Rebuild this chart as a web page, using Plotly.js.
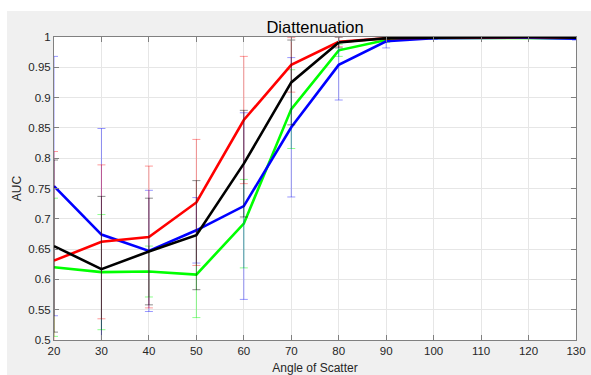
<!DOCTYPE html>
<html>
<head>
<meta charset="utf-8">
<script src="https://cdn.plot.ly/plotly-3.0.1.min.js"></script>
<style>
html,body{margin:0;padding:0;background:#ffffff;}
#chart{position:absolute;left:7px;top:11px;width:584px;height:364px;}
</style>
</head>
<body>
<div id="chart"></div>
<script>
var angles = [20, 30, 40, 50, 60, 70, 80, 90, 100, 110, 120, 130];

var redAUC   = [0.631, 0.662, 0.670, 0.727, 0.863, 0.954, 0.992, 0.998, 0.999, 1.000, 1.000, 0.999];
var redErr   = [0.180, 0.127, 0.117, 0.104, 0.105, 0.045, 0.008, 0.002, 0.001, 0.001, 0.001, 0.001];

var blackAUC = [0.655, 0.617, 0.646, 0.673, 0.791, 0.925, 0.991, 0.998, 0.999, 1.000, 1.000, 0.999];
var blackErr = [0.142, 0.120, 0.088, 0.090, 0.088, 0.070, 0.009, 0.002, 0.001, 0.001, 0.001, 0.001];

var greenAUC = [0.620, 0.612, 0.613, 0.608, 0.692, 0.881, 0.978, 0.995, 0.999, 0.999, 0.999, 0.998];
var greenErr = [0.114, 0.095, 0.042, 0.071, 0.073, 0.065, 0.010, 0.004, 0.001, 0.001, 0.001, 0.002];

var blueAUC  = [0.754, 0.674, 0.647, 0.681, 0.721, 0.851, 0.954, 0.993, 0.998, 0.999, 0.999, 0.997];
var blueErr  = [0.214, 0.175, 0.100, 0.054, 0.154, 0.115, 0.058, 0.011, 0.002, 0.001, 0.001, 0.002];

var xTicks = [20, 30, 40, 50, 60, 70, 80, 90, 100, 110, 120, 130];
var yTicks = [0.5, 0.55, 0.6, 0.65, 0.7, 0.75, 0.8, 0.85, 0.9, 0.95, 1];
var yTickText = ['0.5', '0.55', '0.6', '0.65', '0.7', '0.75', '0.8', '0.85', '0.9', '0.95', '1'];

function series(y, err, lineColor, errColor) {
  return {
    x: angles, y: y, type: 'scatter', mode: 'lines',
    line: {color: lineColor, width: 2.6},
    error_y: {type: 'data', array: err, visible: true, color: errColor, thickness: 1, width: 4},
    showlegend: false, hoverinfo: 'skip'
  };
}

var data = [
  series(greenAUC, greenErr, '#00ff00', 'rgba(0,255,0,0.45)'),
  series(blueAUC, blueErr, '#0000ff', 'rgba(0,0,255,0.4)'),
  series(redAUC, redErr, '#ff0000', 'rgba(255,0,0,0.4)'),
  series(blackAUC, blackErr, '#000000', 'rgba(0,0,0,0.45)')
];

var axisFont = {family: 'Liberation Sans, Arial, sans-serif', size: 11.5, color: '#262626'};
var labelFont = {family: 'Liberation Sans, Arial, sans-serif', size: 12, color: '#262626'};

var layout = {
  width: 584, height: 364,
  margin: {l: 47, r: 15, t: 26, b: 35, pad: 0},
  paper_bgcolor: '#f0f0f0',
  plot_bgcolor: '#ffffff',
  title: {
    text: 'Diattenuation',
    font: {family: 'Liberation Sans, Arial, sans-serif', size: 16.5, color: '#000000'},
    x: 0.5, xref: 'paper', xanchor: 'center',
    y: 1, yref: 'paper', yanchor: 'bottom', pad: {b: 4}
  },
  xaxis: {
    range: [20, 130], tickvals: xTicks, ticks: 'inside', ticklen: 5, tickcolor: '#808080',
    showline: true, linecolor: '#808080', linewidth: 1, mirror: 'ticks',
    showgrid: true, gridcolor: '#e6e6e6', gridwidth: 1, zeroline: false,
    tickfont: axisFont,
    title: {text: 'Angle of Scatter', font: labelFont, standoff: 7}
  },
  yaxis: {
    range: [0.5, 1], tickvals: yTicks, ticktext: yTickText, ticks: 'inside', ticklen: 5, tickcolor: '#808080',
    showline: true, linecolor: '#808080', linewidth: 1, mirror: 'ticks',
    showgrid: true, gridcolor: '#e6e6e6', gridwidth: 1, zeroline: false,
    tickfont: axisFont,
    title: {text: 'AUC', font: labelFont, standoff: 4}
  }
};

Plotly.newPlot('chart', data, layout, {displayModeBar: false, staticPlot: true});
</script>
</body>
</html>
